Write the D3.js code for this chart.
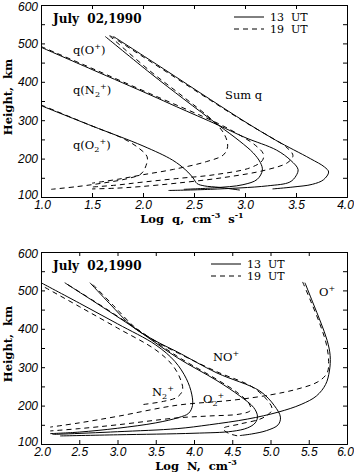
<!DOCTYPE html>
<html lang="en">
<head>
    <meta charset="UTF-8">
    <title>Ionospheric production rates and ion densities, July 02, 1990</title>
    <script src="https://d3js.org/d3.v7.min.js"></script>
    <style>
        body { margin: 0; background: #fff; }
        .tick text { font-family: "Liberation Sans", Arial, sans-serif; font-style: italic; font-size: 12px; }
        .serif { font-family: "DejaVu Serif", serif; }
        .curve { fill: none; stroke: #000; stroke-width: 1; }
        .dash { stroke-dasharray: 5,4; }
    </style>
</head>
<body>
<svg id="chart" width="354" height="474"></svg>
<script>
// ---- upper panel: production rates, [log q, height km]
const qO2_13 = [[1.0,338],[1.5,285],[2.0,233],[2.29,196],[2.42,170],[2.49,150],[2.53,135],[2.6,129],[2.75,125],[2.95,118]];
const qO2_19 = [[1.0,340],[1.5,285],[1.8,253],[1.95,229],[2.04,205],[2.03,182],[1.98,160],[1.85,148],[1.6,136],[1.35,127],[1.1,120]];
const qOp_13 = [[1.63,518],[2.07,423],[2.4,355],[2.74,287],[2.95,245],[3.08,215],[3.15,190],[3.17,170],[3.12,146],[2.98,132],[2.7,124],[2.4,120]];
const qOp_19 = [[1.67,520],[2.07,428],[2.4,360],[2.7,295],[2.8,262],[2.83,232],[2.79,210],[2.62,192],[2.3,172],[2.0,158],[1.75,146],[1.5,136]];
const qN2_13 = [[1.0,490],[1.5,432],[2.07,366],[2.33,335],[2.74,287],[3.0,255],[3.31,222],[3.45,195],[3.52,172],[3.5,155],[3.44,139],[3.22,129],[2.66,120],[2.25,117]];
const qN2_19 = [[1.0,492],[1.5,435],[2.07,369],[2.74,291],[2.95,261],[3.1,235],[3.18,212],[3.17,195],[3.05,176],[2.7,158],[2.33,148],[1.97,138],[1.74,131],[1.5,126]];
const qSum_13 = [[1.71,518],[2.2,434],[2.66,354],[3.0,296],[3.3,248],[3.64,200],[3.78,178],[3.82,165],[3.77,145],[3.66,133],[3.47,126],[3.27,121]];
const qSum_19 = [[1.68,520],[2.2,431],[2.66,352],[3.0,295],[3.25,256],[3.4,231],[3.47,208],[3.42,190],[3.2,170],[2.8,151],[2.33,136],[1.97,127],[1.74,123],[1.5,121]];

// ---- lower panel: ion densities, [log N, height km]
const nOp_13 = [[5.45,520],[5.55,470],[5.66,415],[5.74,370],[5.78,330],[5.77,290],[5.72,255],[5.6,225],[5.4,203],[5.1,183],[4.7,165],[4.2,150],[3.78,140],[3.0,132],[2.3,126],[2.15,125]];
const nOp_19 = [[5.42,522],[5.53,470],[5.65,410],[5.73,360],[5.76,315],[5.74,285],[5.62,262],[5.35,243],[5.0,228],[4.5,214],[3.78,201],[3.0,172],[2.5,155],[2.12,144]];
const nNOp_13 = [[2.64,520],[2.9,465],[3.2,405],[3.5,368],[3.78,340],[4.3,285],[4.86,238],[5.05,200],[5.13,170],[5.1,150],[4.95,135],[4.75,126],[4.6,122]];
const nNOp_19 = [[2.68,515],[2.95,460],[3.25,400],[3.55,362],[3.8,336],[4.3,288],[4.75,250],[4.95,216],[5.02,190],[4.9,168],[4.6,152],[4.38,140],[4.45,128],[4.6,120]];
const nO2p_13 = [[2.31,520],[2.7,470],[3.2,405],[3.78,325],[4.3,265],[4.6,225],[4.78,195],[4.83,172],[4.8,155],[4.7,142],[4.5,133],[4.0,128],[3.0,124],[2.25,121]];
const nO2p_19 = [[2.35,515],[2.75,465],[3.25,400],[3.8,326],[4.3,268],[4.58,232],[4.72,205],[4.74,188],[4.6,178],[4.2,173],[3.78,168],[3.0,150],[2.5,140],[2.12,134]];
const nN2p_13 = [[2.0,520],[2.5,467],[3.0,413],[3.5,358],[3.75,315],[3.9,270],[3.97,230],[3.98,200],[3.93,180],[3.8,169],[3.5,155],[3.0,141],[2.5,131],[2.12,127]];
const nN2p_19 = [[2.05,508],[2.5,458],[3.0,402],[3.5,345],[3.72,305],[3.83,265],[3.85,240],[3.78,222],[3.6,211],[3.3,202]];

const heightTicks = d3.range(100, 601, 50);
const qTicks = [1.0, 1.5, 2.0, 2.5, 3.0, 3.5, 4.0];
const nTicks = [2.0, 2.5, 3.0, 3.5, 4.0, 4.5, 5.0, 5.5, 6.0];

const svg = d3.select("#chart");

function richText(g, x, y, parts, size, anchor) {
    const t = g.append("text").attr("class", "serif").attr("x", x).attr("y", y)
        .attr("font-size", size).attr("text-anchor", anchor || "start");
    let shift = 0;
    parts.forEach(p => {
        const want = p.sub ? 3 : p.sup ? -5 : 0;
        t.append("tspan").attr("dy", want - shift)
            .attr("font-size", (p.sub || p.sup) ? size * 0.7 : size)
            .text(p.t);
        shift = want;
    });
    return t;
}

function drawPanel(p) {
    const g = svg.append("g");
    const x = d3.scaleLinear().domain(p.xDomain).range([41, 347]);
    const y = d3.scaleLinear().domain([100, 600]).range([p.bottom, p.top]);

    const fmtH = d => d % 100 === 0 ? d : "";
    const xAxis = g.append("g").attr("transform", `translate(0,${p.bottom})`)
        .call(d3.axisBottom(x).tickValues(p.xTicks).tickSize(-4).tickPadding(3).tickFormat(d3.format(".1f")));
    // first and last labels nudged inward a little so they stay on the page
    xAxis.selectAll(".tick text").filter((d, i, n) => i === n.length - 1).attr("dx", -2);
    xAxis.selectAll(".tick text").filter((d, i) => i === 0).attr("dx", 1);
    const yAxis = g.append("g").attr("transform", "translate(41,0)")
        .call(d3.axisLeft(y).tickValues(heightTicks).tickSize(-4).tickPadding(3).tickFormat(fmtH));
    yAxis.selectAll(".tick text").filter(d => d === 100).attr("dy", "0.1em");
    yAxis.selectAll(".tick text").filter(d => d === 600).attr("dy", "0.45em");
    g.append("g").attr("transform", `translate(0,${p.top})`)
        .call(d3.axisTop(x).tickValues(p.xTicks).tickSize(-4).tickFormat(""));
    g.append("g").attr("transform", "translate(347,0)")
        .call(d3.axisRight(y).tickValues(heightTicks).tickSize(-4).tickFormat(""));
    g.selectAll(".domain").attr("stroke-width", 1);

    const line = d3.line().x(d => x(d[0])).y(d => y(d[1])).curve(d3.curveCatmullRom.alpha(0.5));
    p.solid.forEach(s => g.append("path").attr("class", "curve").attr("d", line(s)));
    p.dashed.forEach(s => g.append("path").attr("class", "curve dash").attr("d", line(s)));

    // title and legend
    g.append("text").attr("class", "serif").attr("x", 53).attr("y", p.top + 18)
        .attr("font-size", 12).attr("font-weight", "bold").attr("xml:space", "preserve").text("July  02,1990");
    const lx = p.legendX;
    g.append("line").attr("class", "curve").attr("x1", lx).attr("x2", lx + 30)
        .attr("y1", p.top + 12).attr("y2", p.top + 12);
    g.append("line").attr("class", "curve dash").attr("x1", lx).attr("x2", lx + 30)
        .attr("y1", p.top + 24).attr("y2", p.top + 24);
    g.append("text").attr("class", "serif").attr("x", lx + 36).attr("y", p.top + 16)
        .attr("font-size", 11).attr("xml:space", "preserve").text("13  UT");
    g.append("text").attr("class", "serif").attr("x", lx + 36).attr("y", p.top + 28)
        .attr("font-size", 11).attr("xml:space", "preserve").text("19  UT");

    // axis titles
    g.append("text").attr("class", "serif").attr("font-size", 11.5).attr("font-weight", "bold")
        .attr("text-anchor", "middle")
        .attr("transform", `translate(12,${(p.top + p.bottom) / 2 - 4}) rotate(-90)`)
        .attr("xml:space", "preserve").text("Height,  km");
    const xt = richText(g, p.xTitleX, p.bottom + 26, p.xTitle, 11.5, "middle");
    xt.attr("font-weight", "bold").attr("xml:space", "preserve");

    p.labels.forEach(l => richText(g, l.x, l.y, l.parts, 11.5));
}

drawPanel({
    top: 5, bottom: 197, xDomain: [1, 4], xTicks: qTicks, legendX: 234, xTitleX: 192,
    solid: [qO2_13, qOp_13, qN2_13, qSum_13],
    dashed: [qO2_19, qOp_19, qN2_19, qSum_19],
    xTitle: [{t: "Log  q,  cm"}, {t: "-3", sup: true}, {t: "  s"}, {t: "-1", sup: true}],
    labels: [
        {x: 73, y: 54, parts: [{t: "q(O"}, {t: "+", sup: true}, {t: ")"}]},
        {x: 73, y: 94, parts: [{t: "q(N"}, {t: "2", sub: true}, {t: "+", sup: true}, {t: ")"}]},
        {x: 73, y: 149, parts: [{t: "q(O"}, {t: "2", sub: true}, {t: "+", sup: true}, {t: ")"}]},
        {x: 225, y: 99, parts: [{t: "Sum  q"}]}
    ]
});

drawPanel({
    top: 252, bottom: 444, xDomain: [2, 6], xTicks: nTicks, legendX: 211, xTitleX: 196,
    solid: [nOp_13, nNOp_13, nO2p_13, nN2p_13],
    dashed: [nOp_19, nNOp_19, nO2p_19, nN2p_19],
    xTitle: [{t: "Log  N,  cm"}, {t: "-3", sup: true}],
    labels: [
        {x: 319, y: 296, parts: [{t: "O"}, {t: "+", sup: true}]},
        {x: 213, y: 361, parts: [{t: "NO"}, {t: "+", sup: true}]},
        {x: 203, y: 403, parts: [{t: "O"}, {t: "2", sub: true}, {t: "+", sup: true}]},
        {x: 152, y: 396, parts: [{t: "N"}, {t: "2", sub: true}, {t: "+", sup: true}]}
    ]
});
</script>
</body>
</html>
